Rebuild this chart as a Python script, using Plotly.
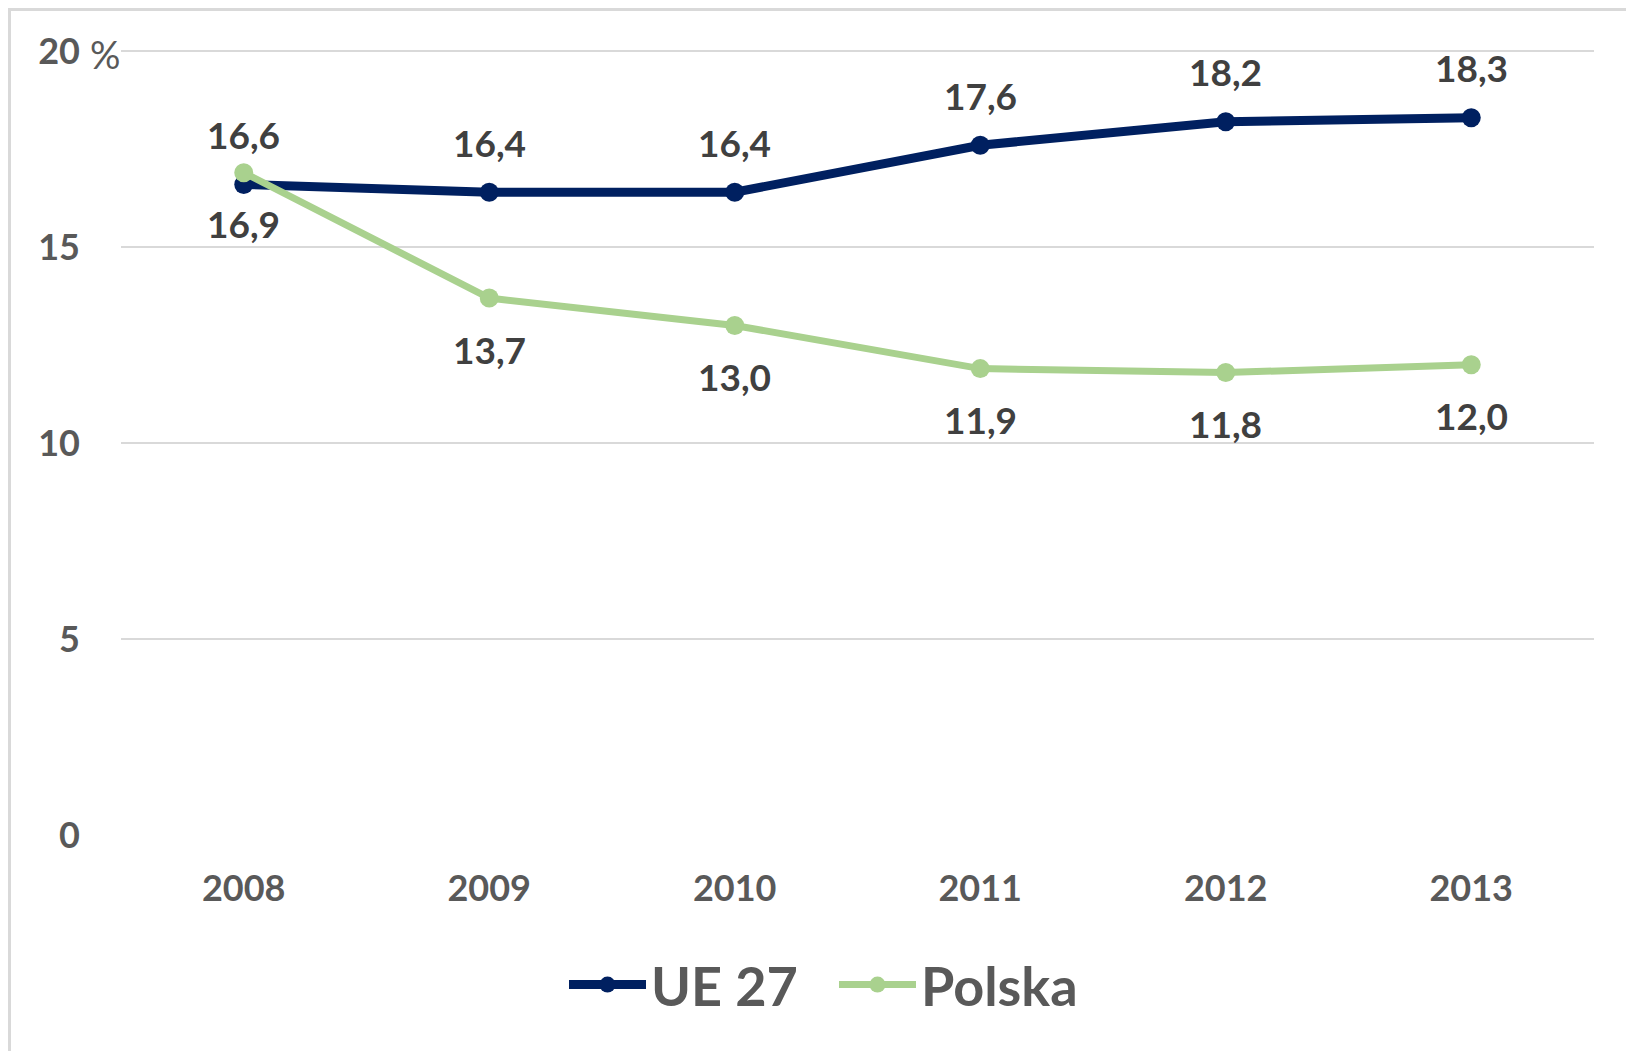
import plotly.graph_objects as go

years = ["2008", "2009", "2010", "2011", "2012", "2013"]
ue27 = [16.6, 16.4, 16.4, 17.6, 18.2, 18.3]
polska = [16.9, 13.7, 13.0, 11.9, 11.8, 12.0]
y_ticks = [0, 5, 10, 15, 20]
y_ticktext = ["0", "5", "10", "15", "20"]

navy = "#002060"
green = "#a9d18e"
label_grey = "#404040"
tick_grey = "#595959"
font_family = "Lato"

W, H = 1634, 1051
m = {"l": 113, "r": 48, "t": 42, "b": 224}
pw = W - m["l"] - m["r"]
ph = H - m["t"] - m["b"]


def fmt(v):
    return f"{v:.1f}".replace(".", ",")


fig = go.Figure()
fig.add_trace(go.Scatter(
    x=years, y=ue27, name="UE 27",
    mode="lines+markers",
    line={"color": navy, "width": 9},
    marker={"color": navy, "size": 19},
))
fig.add_trace(go.Scatter(
    x=years, y=polska, name="Polska",
    mode="lines+markers",
    line={"color": green, "width": 7},
    marker={"color": green, "size": 19},
))

# data labels: UE 27 above the points, Polska below
label_font = {"family": font_family, "size": 37, "color": label_grey, "weight": 700}
for i, v in enumerate(ue27):
    fig.add_annotation(x=i, y=v, text=fmt(v), showarrow=False,
                       yshift=50, font=label_font)
for i, v in enumerate(polska):
    fig.add_annotation(x=i, y=v, text=fmt(v), showarrow=False,
                       yshift=-51, font=label_font)

# "%" next to the top tick label
fig.add_annotation(xref="paper", yref="y", x=(80 - m["l"]) / pw, y=20,
                   xanchor="left", yshift=-3, text="%", showarrow=False,
                   font={"family": font_family, "size": 38, "color": tick_grey})

# outer chart frame (left and top edges visible)
fig.add_shape(type="rect", xref="paper", yref="paper",
              x0=(1.5 - m["l"]) / pw, x1=1.2,
              y0=-0.5, y1=1 + (m["t"] - 1.5) / ph,
              line={"color": "#d9d9d9", "width": 3}, layer="below")

fig.update_layout(
    width=W, height=H,
    margin=m,
    plot_bgcolor="white",
    paper_bgcolor="white",
    font={"family": font_family, "color": tick_grey},
    xaxis={
        "type": "category",
        "range": [-0.5, 5.5],
        "showgrid": False,
        "showline": False,
        "ticks": "",
        "ticklabelstandoff": 29,
        "tickfont": {"size": 36, "color": tick_grey, "weight": 700},
    },
    yaxis={
        "range": [0, 20.03],
        "tickvals": y_ticks,
        "ticktext": y_ticktext,
        "showgrid": True,
        "gridcolor": "#d9d9d9",
        "gridwidth": 1.5,
        "zeroline": False,
        "showline": False,
        "ticks": "",
        "ticklabelstandoff": 40,
        "tickfont": {"size": 36, "color": tick_grey, "weight": 700},
    },
    legend={
        "orientation": "h",
        "x": (556 - m["l"]) / pw, "xanchor": "left",
        "y": -150 / ph, "yanchor": "middle",
        "font": {"size": 54, "color": tick_grey, "weight": 700},
        "itemwidth": 77,
        "entrywidth": 178,
        "entrywidthmode": "pixels",
        "tracegroupgap": 0,
    },
    showlegend=True,
)

fig.write_html("out.html")
